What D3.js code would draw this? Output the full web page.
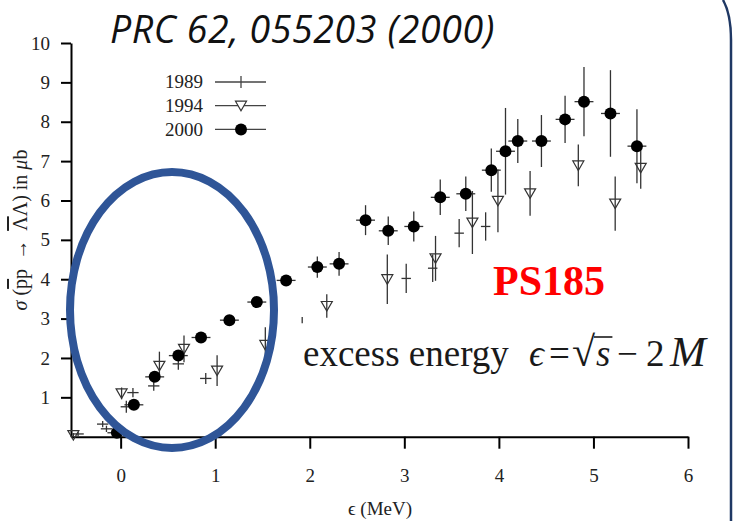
<!DOCTYPE html>
<html>
<head>
<meta charset="utf-8">
<script src="https://cdn.jsdelivr.net/npm/d3@7"></script>
<style>
  body { margin: 0; background: #fff; }
  svg { display: block; }
</style>
</head>
<body>
<script>
// cross section data: [epsilon (MeV), sigma (mub), d_eps, d_sigma]
var data1989 = [
  [-0.45, 0.07, 0.06, 0.05],
  [-0.19, 0.32, 0.06, 0.08],
  [-0.15, 0.2, 0.06, 0.08],
  [0.06, 0.76, 0.06, 0.15],
  [0.13, 1.12, 0.06, 0.12],
  [0.35, 1.29, 0.06, 0.12],
  [0.61, 1.85, 0.06, 0.15],
  [0.9, 1.48, 0.06, 0.14],
  [1.92, 2.96, 0, 0.08],
  [3.02, 4.02, 0.05, 0.37],
  [3.3, 4.28, 0.05, 0.35],
  [3.58, 5.17, 0.05, 0.36],
  [3.86, 5.34, 0.05, 0.36],
];

var data1994 = [
  [-0.5, 0.04, 0, 0.05],
  [0.01, 1.1, 0, 0.15],
  [0.41, 1.8, 0, 0.36],
  [0.67, 2.23, 0, 0.34],
  [1.02, 1.68, 0, 0.39],
  [1.53, 2.33, 0, 0.45],
  [2.18, 3.32, 0, 0.3],
  [2.82, 4.0, 0, 0.63],
  [3.33, 4.53, 0, 0.57],
  [3.72, 5.44, 0, 0.8],
  [3.99, 5.99, 0, 0.8],
  [4.33, 6.18, 0, 0.57],
  [4.84, 6.89, 0, 0.53],
  [5.23, 5.92, 0, 0.69],
  [5.5, 6.83, 0, 0.53],
];

var data2000 = [
  [-0.04, 0.1, 0.1, 0.05],
  [0.14, 0.81, 0.1, 0.08],
  [0.36, 1.52, 0.1, 0.1],
  [0.61, 2.06, 0.1, 0.1],
  [0.85, 2.52, 0.1, 0.1],
  [1.15, 2.96, 0.1, 0.1],
  [1.44, 3.42, 0.1, 0.12],
  [1.75, 3.97, 0.1, 0.12],
  [2.08, 4.31, 0.1, 0.27],
  [2.31, 4.39, 0.1, 0.3],
  [2.59, 5.5, 0.1, 0.38],
  [2.83, 5.23, 0.1, 0.36],
  [3.1, 5.34, 0.1, 0.38],
  [3.38, 6.08, 0.1, 0.45],
  [3.65, 6.17, 0.1, 0.44],
  [3.92, 6.77, 0.1, 0.55],
  [4.07, 7.25, 0.1, 1.1],
  [4.2, 7.51, 0.1, 0.56],
  [4.45, 7.51, 0.1, 0.66],
  [4.7, 8.06, 0.1, 0.6],
  [4.9, 8.51, 0.1, 0.88],
  [5.18, 8.21, 0.1, 1.1],
  [5.46, 7.38, 0.1, 0.94],
];

var xTicks = [0, 1, 2, 3, 4, 5, 6];
var yTicks = [1, 2, 3, 4, 5, 6, 7, 8, 9, 10];
var legendYears = ["1989", "1994", "2000"];

var svgWidth = 733;
var svgHeight = 521;
var serif = "'Liberation Serif', 'Times New Roman', serif";

var svg = d3
  .select("body")
  .append("svg")
  .attr("width", svgWidth)
  .attr("height", svgHeight);

svg.append("rect").attr("width", svgWidth).attr("height", svgHeight).attr("fill", "#fff");

// scales
var xScale = d3.scaleLinear().domain([-0.525, 6]).range([71, 688]);
var yScale = d3.scaleLinear().domain([0, 10]).range([436.7, 43]);

// axes
var xAxis = svg
  .append("g")
  .attr("transform", `translate(0, ${yScale(0)})`)
  .call(
    d3.axisBottom(xScale).tickValues(xTicks).tickFormat(d3.format("d"))
      .tickSize(12).tickSizeOuter(0).tickPadding(20)
  );

var yAxis = svg
  .append("g")
  .attr("transform", `translate(${xScale.range()[0]}, 0)`)
  .call(
    d3.axisLeft(yScale).tickValues(yTicks).tickFormat(d3.format("d"))
      .tickSize(10).tickSizeOuter(0).tickPadding(11)
  );

[xAxis, yAxis].forEach((ax) => {
  ax.attr("font-family", serif).attr("font-size", 19);
  ax.select(".domain").attr("stroke", "#000").attr("stroke-width", 2);
  ax.selectAll(".tick line").attr("stroke", "#000").attr("stroke-width", 2);
  ax.selectAll(".tick text").attr("fill", "#222");
});

// error bars for every series
function drawErrors(data) {
  var g = svg.append("g").attr("stroke", "#333").attr("stroke-width", 1.3);
  g.selectAll(".v")
    .data(data)
    .enter()
    .append("line")
    .attr("x1", (d) => xScale(d[0]))
    .attr("x2", (d) => xScale(d[0]))
    .attr("y1", (d) => yScale(d[1] - d[3]))
    .attr("y2", (d) => yScale(d[1] + d[3]));
  g.selectAll(".h")
    .data(data.filter((d) => d[2] > 0))
    .enter()
    .append("line")
    .attr("x1", (d) => xScale(d[0] - d[2]))
    .attr("x2", (d) => xScale(d[0] + d[2]))
    .attr("y1", (d) => yScale(d[1]))
    .attr("y2", (d) => yScale(d[1]));
}

drawErrors(data1989);
drawErrors(data1994);
drawErrors(data2000);

var triPath = "M-5.5,-4.5L5.5,-4.5L0,5Z";

svg
  .append("g")
  .selectAll("path")
  .data(data1994)
  .enter()
  .append("path")
  .attr("d", triPath)
  .attr("transform", (d) => `translate(${xScale(d[0])}, ${yScale(d[1])})`)
  .attr("fill", "none")
  .attr("stroke", "#333")
  .attr("stroke-width", 1.2);

svg
  .append("g")
  .selectAll("circle")
  .data(data2000)
  .enter()
  .append("circle")
  .attr("cx", (d) => xScale(d[0]))
  .attr("cy", (d) => yScale(d[1]))
  .attr("r", 6)
  .attr("fill", "#000");

// legend
var legend = svg.append("g");
legendYears.forEach((year, i) => {
  var ly = 82 + i * 23.7;
  legend
    .append("text")
    .text(year)
    .attr("x", 203)
    .attr("y", ly)
    .attr("dy", "0.34em")
    .attr("text-anchor", "end")
    .attr("font-family", serif)
    .attr("font-size", 19)
    .attr("fill", "#222");
  legend
    .append("line")
    .attr("x1", 215)
    .attr("x2", 266)
    .attr("y1", ly)
    .attr("y2", ly)
    .attr("stroke", "#444")
    .attr("stroke-width", 1.3);
  if (i == 0) {
    legend.append("line")
      .attr("x1", 241).attr("x2", 241)
      .attr("y1", ly - 6).attr("y2", ly + 6)
      .attr("stroke", "#444").attr("stroke-width", 1.3);
  } else if (i == 1) {
    legend.append("path")
      .attr("d", triPath)
      .attr("transform", `translate(241, ${ly})`)
      .attr("fill", "#fff")
      .attr("stroke", "#333")
      .attr("stroke-width", 1.2);
  } else {
    legend.append("circle").attr("cx", 241).attr("cy", ly).attr("r", 6).attr("fill", "#000");
  }
});

// axis titles
svg
  .append("text")
  .attr("x", 380)
  .attr("y", 515)
  .attr("text-anchor", "middle")
  .attr("font-family", serif)
  .attr("font-size", 19)
  .attr("fill", "#222")
  .text("\u03f5 (MeV)");

var yLabel = svg
  .append("text")
  .attr("transform", "translate(27, 230) rotate(-90)")
  .attr("text-anchor", "middle")
  .attr("font-family", serif)
  .attr("font-size", 20)
  .attr("fill", "#222");
yLabel.append("tspan").attr("font-style", "italic").text("\u03c3");
yLabel.append("tspan").text(" (");
yLabel.append("tspan").style("text-decoration", "overline").text("p");
yLabel.append("tspan").text("p \u2009\u2192\u2009 ");
yLabel.append("tspan").style("text-decoration", "overline").text("\u039b");
yLabel.append("tspan").text("\u039b) in ");
yLabel.append("tspan").attr("font-style", "italic").text("\u03bc");
yLabel.append("tspan").text("b");

// title and annotations
svg
  .append("text")
  .attr("x", 110)
  .attr("y", 43)
  .attr("font-family", "'Open Sans', sans-serif")
  .attr("font-style", "italic")
  .attr("font-size", 37.5)
  .attr("letter-spacing", 0.6)
  .attr("fill", "#111")
  .text("PRC 62, 055203 (2000)");

svg
  .append("text")
  .attr("x", 493)
  .attr("y", 295)
  .attr("font-family", serif)
  .attr("font-weight", "bold")
  .attr("font-size", 42)
  .attr("fill", "#f00")
  .text("PS185");

var eq = svg
  .append("text")
  .attr("y", 366)
  .attr("font-family", serif)
  .attr("font-size", 37)
  .attr("fill", "#1a1a1a");
eq.append("tspan").attr("x", 303).text("excess energy");
eq.append("tspan").attr("x", 529).attr("font-style", "italic").text("\u03f5");
eq.append("tspan").attr("x", 549).text("=");
var sq = eq.append("tspan").attr("x", 572).attr("font-size", 42).text("\u221a");
var sTs = eq.append("tspan").attr("x", 596).attr("font-style", "italic").text("s");
eq.append("tspan").attr("x", 617).text("\u2212");
eq.append("tspan").attr("x", 646).text("2");
eq.append("tspan").attr("x", 670).attr("font-style", "italic").attr("font-size", 43).text("M");

var sqBox = sq.node().getBBox();
var sBox = sTs.node().getBBox();
svg
  .append("line")
  .attr("x1", sqBox.x + sqBox.width - 2)
  .attr("x2", sBox.x + sBox.width + 2)
  .attr("y1", 337)
  .attr("y2", 337)
  .attr("stroke", "#1a1a1a")
  .attr("stroke-width", 1.6);

// highlight ellipse round the threshold region
svg
  .append("ellipse")
  .attr("cx", 172)
  .attr("cy", 310)
  .attr("rx", 102)
  .attr("ry", 138)
  .attr("fill", "none")
  .attr("stroke", "#2f5597")
  .attr("stroke-width", 8);

// slide frame edge
svg
  .append("path")
  .attr("d", "M723,0 Q731,14 731,40 V521")
  .attr("fill", "none")
  .attr("stroke", "#1f3864")
  .attr("stroke-width", 2.5);
</script>
</body>
</html>
